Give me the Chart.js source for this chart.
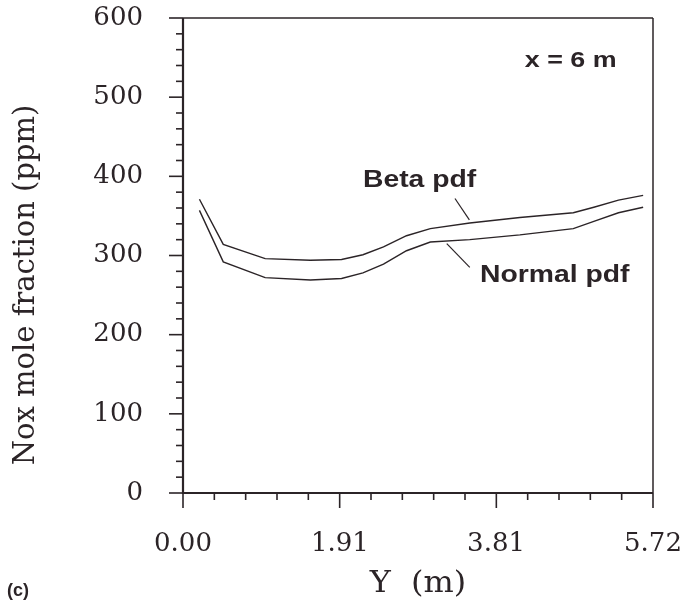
<!DOCTYPE html>
<html>
<head>
<meta charset="utf-8">
<script src="https://cdn.jsdelivr.net/npm/chart.js@4"></script>
<style>
  body { margin: 0; background: #fff; }
  canvas { display: block; }
</style>
</head>
<body>
<canvas id="myChart" width="691" height="607"></canvas>
<script>
// Y position across the duct (m) and NOx at x = 6 m (ppm)
const yPositions = [0.2, 0.49, 1.0, 1.55, 1.93, 2.19, 2.44, 2.72, 3.01, 3.49, 4.1, 4.75, 5.0, 5.3, 5.6];
const betaPdf = [371, 314, 296, 294, 295, 301, 311, 325, 334, 341, 348, 354, 361, 370, 376];
const normalPdf = [357, 292, 272, 269, 271, 278, 289, 306, 317, 320, 326, 334, 343, 354, 361];

const xTickValues = [0, 1.91, 3.81, 5.72];
const yTickValues = [0, 100, 200, 300, 400, 500, 600];
const xMinorCount = 15;
const yMinorStep = 20;

const INK = "#2b2427";

const stretchText = (ctx, text, px, py, sx) => {
  ctx.save();
  ctx.translate(px, py);
  ctx.scale(sx, 1);
  ctx.fillText(text, 0, 0);
  ctx.restore();
};

const line = (ctx, x1, y1, x2, y2) => {
  ctx.beginPath();
  ctx.moveTo(x1, y1);
  ctx.lineTo(x2, y2);
  ctx.stroke();
};

// keep chart area where the reference has it
const noPadding = (scale) => {
  scale.paddingTop = 0;
  scale.paddingBottom = 0;
  scale.paddingLeft = 0;
  scale.paddingRight = 0;
};

const framePlugin = {
  id: "frame",
  afterDraw(chart) {
    const { ctx, chartArea: a } = chart;
    const { x, y } = chart.scales;
    ctx.save();
    ctx.strokeStyle = INK;
    ctx.fillStyle = INK;

    // box
    ctx.lineWidth = 1.5;
    line(ctx, a.left, a.top, a.right, a.top);
    line(ctx, a.right, a.top, a.right, a.bottom);
    ctx.lineWidth = 2.2;
    line(ctx, a.left, a.top, a.left, a.bottom + 1);
    line(ctx, a.left - 1, a.bottom, a.right, a.bottom);

    // ticks
    ctx.lineWidth = 1.6;
    for (let v = 0; v <= 600; v += yMinorStep) {
      const py = y.getPixelForValue(v);
      const len = yTickValues.includes(v) ? 14 : 7;
      line(ctx, a.left - len, py, a.left, py);
    }
    for (let i = 0; i <= xMinorCount; i++) {
      const px = x.getPixelForValue((i * 5.72) / xMinorCount);
      const len = i % 5 === 0 ? 15 : 7;
      line(ctx, px, a.bottom, px, a.bottom + len);
    }

    // leader lines
    ctx.lineWidth = 1.2;
    line(ctx, x.getPixelForValue(3.31), y.getPixelForValue(372), x.getPixelForValue(3.485), y.getPixelForValue(345));
    line(ctx, x.getPixelForValue(3.21), y.getPixelForValue(315), x.getPixelForValue(3.49), y.getPixelForValue(285));

    // labels
    ctx.textAlign = "left";
    ctx.textBaseline = "alphabetic";
    ctx.font = "bold 24px 'Liberation Sans'";
    stretchText(ctx, "Beta pdf", x.getPixelForValue(2.19), y.getPixelForValue(386), 1.18);
    stretchText(ctx, "Normal pdf", x.getPixelForValue(3.615), y.getPixelForValue(267), 1.18);
    ctx.font = "bold 22px 'Liberation Sans'";
    stretchText(ctx, "x = 6 m", x.getPixelForValue(4.16), y.getPixelForValue(538), 1.22);

    // axis titles
    ctx.font = "29px 'DejaVu Serif'";
    ctx.textAlign = "center";
    ctx.textBaseline = "middle";
    stretchText(ctx, "Y  (m)", (a.left + a.right) / 2, 584, 1.1);
    ctx.save();
    ctx.translate(26, 285);
    ctx.rotate(-Math.PI / 2);
    ctx.font = "29px 'DejaVu Serif'";
    ctx.fillText("Nox mole fraction (ppm)", 0, 0);
    ctx.restore();

    ctx.textAlign = "left";
    ctx.textBaseline = "alphabetic";
    ctx.font = "bold 18px 'Liberation Sans'";
    ctx.fillText("(c)", 7, 596);
    ctx.restore();
  },
};

const makeSeries = (values) => yPositions.map((v, i) => ({ x: v, y: values[i] }));

const ctx = document.querySelector("#myChart");
new Chart(ctx, {
  type: "line",
  data: {
    datasets: [
      {
        label: "Beta pdf",
        data: makeSeries(betaPdf),
        borderColor: INK,
        borderWidth: 1.4,
        pointRadius: 0,
        tension: 0,
        fill: false,
      },
      {
        label: "Normal pdf",
        data: makeSeries(normalPdf),
        borderColor: INK,
        borderWidth: 1.4,
        pointRadius: 0,
        tension: 0,
        fill: false,
      },
    ],
  },
  options: {
    responsive: false,
    animation: false,
    devicePixelRatio: 1,
    layout: { padding: { top: 18, right: 38, left: 0, bottom: 0 } },
    plugins: {
      legend: { display: false },
      tooltip: { enabled: false },
    },
    scales: {
      x: {
        type: "linear",
        min: 0,
        max: 5.72,
        afterBuildTicks: (scale) => {
          scale.ticks = xTickValues.map((value) => ({ value }));
        },
        afterFit: (scale) => {
          scale.height = 114;
          noPadding(scale);
        },
        grid: { display: false },
        border: { display: false },
        ticks: {
          font: { family: "DejaVu Serif", size: 26 },
          color: INK,
          padding: 28,
          maxRotation: 0,
          autoSkip: false,
          callback: (v) => Number(v).toFixed(2),
        },
      },
      y: {
        min: 0,
        max: 600,
        afterBuildTicks: (scale) => {
          scale.ticks = yTickValues.map((value) => ({ value }));
        },
        afterFit: (scale) => {
          scale.width = 183;
          noPadding(scale);
        },
        grid: { display: false },
        border: { display: false },
        ticks: {
          font: { family: "DejaVu Serif", size: 26 },
          color: INK,
          padding: 32,
          autoSkip: false,
        },
      },
    },
  },
  plugins: [framePlugin],
});
</script>
</body>
</html>
